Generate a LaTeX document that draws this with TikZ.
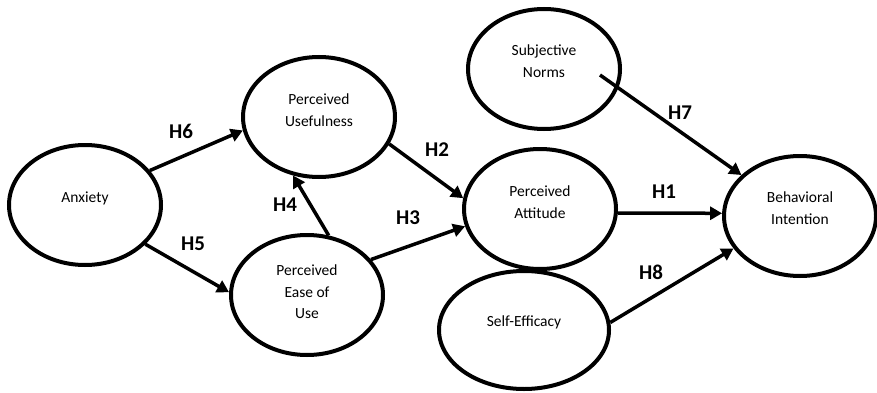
\documentclass[tikz,border=0pt]{standalone}
\usepackage{fontspec}
\setmainfont{Carlito}
\usetikzlibrary{arrows.meta,shapes.geometric}
\definecolor{tamline}{RGB}{0,0,0}

\begin{document}
\begin{tikzpicture}[x=1pt,y=-1pt,
  construct/.style={ellipse, draw=tamline, line width=4pt, minimum width=152pt, minimum height=120pt, inner sep=0pt},
  cname/.style={align=center, font=\fontsize{15.5}{21.5}\selectfont},
  hpath/.style={draw=tamline, line width=3.5pt, -{Triangle[length=12pt,width=13pt]}},
  hyp/.style={font=\fontsize{21}{22}\selectfont\bfseries}]
\useasboundingbox (0,0) rectangle (877,393);

% constructs
\node[construct] (anx) at (85,205) {};
\node[construct] (pu) at (319,117) {};
\node[construct] (peu) at (307,295) {};
\node[construct] (sn) at (544,69) {};
\node[construct] (pa) at (540,209) {};
\node[construct, minimum width=170pt, minimum height=118pt] (se) at (524,330) {};
\node[construct] (bi) at (800,216) {};

\node[cname] (anxtxt) at (85,198) {Anxiety};
\node[cname] (putxt) at (319,110) {Perceived\\Usefulness};
\node[cname] (peutxt) at (307,292) {Perceived\\Ease of\\Use};
\node[cname] (sntxt) at (544,61) {Subjective\\Norms};
\node[cname] (patxt) at (540,202) {Perceived\\Attitude};
\node[cname] (setxt) at (524,322) {Self-Efficacy};
\node[cname] (bitxt) at (800,208) {Behavioral\\Intention};

% hypotheses
\coordinate (snout) at (600,75);
\draw[hpath] (anx.28) -- (pu.190);
\draw[hpath] (anx.-33) -- (peu.178);
\draw[hpath] (peu.70) -- (pu.246);
\draw[hpath] (pu.-21) -- (pa.172);
\draw[hpath] (peu.29) -- (pa.193);
\draw[hpath] (pa.-3) -- (bi.178);
\draw[hpath] (snout) -- (bi.145);
\draw[hpath] (se.5) -- (bi.206);

\node[hyp] (h6) at (181,131) {H6};
\node[hyp] (h5) at (193,244) {H5};
\node[hyp] (h4) at (285,205) {H4};
\node[hyp] (h2) at (437,150) {H2};
\node[hyp] (h3) at (408,218) {H3};
\node[hyp] (h7) at (680,113) {H7};
\node[hyp] (h1) at (664,192) {H1};
\node[hyp] (h8) at (651,272) {H8};
\end{tikzpicture}
\end{document}
